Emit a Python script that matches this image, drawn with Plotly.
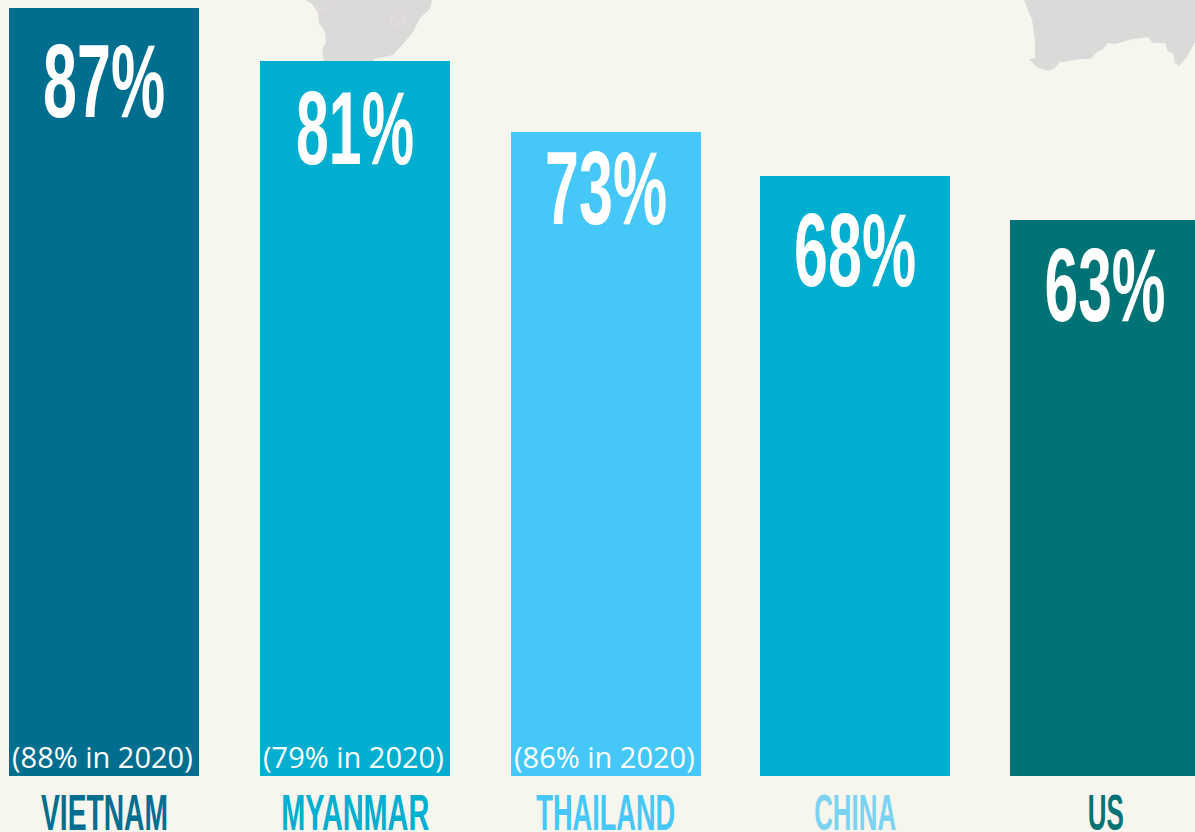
import json
import plotly.graph_objects as go

countries = ["VIETNAM", "MYANMAR", "THAILAND", "CHINA", "US"]
values_2021 = [87, 81, 73, 68, 63]
notes = ["(88% in 2020)", "(79% in 2020)", "(86% in 2020)", "", ""]

W, H = 1195, 832
centres = [104, 355, 606, 855, 1105]
bar_width = 190
bar_colors = ["#006f8f", "#00aed0", "#45c8f8", "#00aed0", "#007377"]
label_colors = ["#006f8f", "#00aed0", "#45c8f8", "#7ad3f0", "#007377"]
value_mid_px = [81, 128, 188, 250, 285]
value_widths = [122, 118, 122, 122, 121]
label_widths = [127, 148, 139, 82, 36]
BG = "#f6f5ee"
MAP = "#dcd9d9"

africa = [(306,0),(312,4),(318,13),(319,23),(325,32),(326,42),(322,50),(324,62),(374,62),(374,59),(393,55),(403,44),(413,32),(420,18),(430,9),(432,0)]
australia = [(1024,0),(1028,10),(1032,20),(1035,40),(1035,58),(1029,59),(1037,67),(1048,71),(1055,68),(1060,62),(1063,62),(1080,59),(1090,59),(1097,52),(1102,50),(1108,43),(1115,44),(1133,39),(1148,37),(1153,43),(1165,43),(1168,52),(1173,53),(1175,63),(1179,66),(1187,57),(1195,42),(1195,0)]
lesotho = [(390,18),(403,12),(405,20),(393,26)]
namibia = [(306,0),(320,9),(328,10),(337,0)]

px_per_unit = 768.4 / 87
zero_px = 776.4
y_top = zero_px / px_per_unit
y_bottom = (zero_px - H) / px_per_unit

def py(p):
    return y_top - p / px_per_unit

def path(pts, close=True):
    s = "M" + " L".join(f"{x},{py(y):.3f}" for x, y in pts)
    return s + (" Z" if close else "")

shapes = [
    dict(type="path", path=path(africa), fillcolor=MAP, line=dict(width=0), layer="below"),
    dict(type="path", path=path(australia), fillcolor=MAP, line=dict(width=0), layer="below"),
    dict(type="path", path=path(lesotho), fillcolor="rgba(0,0,0,0)", line=dict(color="#e4e1e0", width=1), layer="below"),
    dict(type="path", path=path(namibia, False), fillcolor="rgba(0,0,0,0)", line=dict(color="#e4e1e0", width=1), layer="below"),
]

fig = go.Figure(go.Bar(
    x=centres, y=values_2021, width=bar_width,
    marker=dict(color=bar_colors, line=dict(width=0)),
    hoverinfo="skip", showlegend=False,
))

annotations = []
fit = {}
for c, v, mid, vw in zip(centres, values_2021, value_mid_px, value_widths):
    t = f"{v}%"
    annotations.append(dict(x=c, y=py(mid), text=f"<b>{t}</b>", showarrow=False, xanchor="center", yanchor="middle",
                            font=dict(family="Liberation Sans", size=104, color="white")))
    fit[t] = vw
for c, name, lc, lw in zip(centres, countries, label_colors, label_widths):
    annotations.append(dict(x=c, y=py(813), text=f"<b>{name}</b>", showarrow=False, xanchor="center", yanchor="middle",
                            font=dict(family="Liberation Sans", size=50, color=lc)))
    fit[name] = lw
for c, n in zip(centres, notes):
    if n:
        annotations.append(dict(x=c - 1.5, y=py(756), text=n, showarrow=False, xanchor="center", yanchor="middle",
                                font=dict(family="Open Sans", size=29, color="white")))

fig.update_layout(
    width=W, height=H, margin=dict(l=0, r=0, t=0, b=0),
    paper_bgcolor=BG, plot_bgcolor=BG,
    xaxis=dict(range=[0, W], visible=False, fixedrange=True),
    yaxis=dict(range=[y_bottom, y_top], visible=False, fixedrange=True),
    shapes=shapes, annotations=annotations, bargap=0,
)

post = """
document.body.style.margin='0';
document.body.style.background='%s';
var fit=%s;
document.querySelectorAll('.annotation-text').forEach(function(t){
  var w=fit[t.textContent];
  if(w){t.setAttribute('textLength',w);t.setAttribute('lengthAdjust','spacingAndGlyphs');
    t.querySelectorAll('tspan').forEach(function(s){s.setAttribute('textLength',w);s.setAttribute('lengthAdjust','spacingAndGlyphs');});}
});
""" % (BG, json.dumps(fit))

fig.write_html("out.html", post_script=post, config=dict(displayModeBar=False, responsive=False))
